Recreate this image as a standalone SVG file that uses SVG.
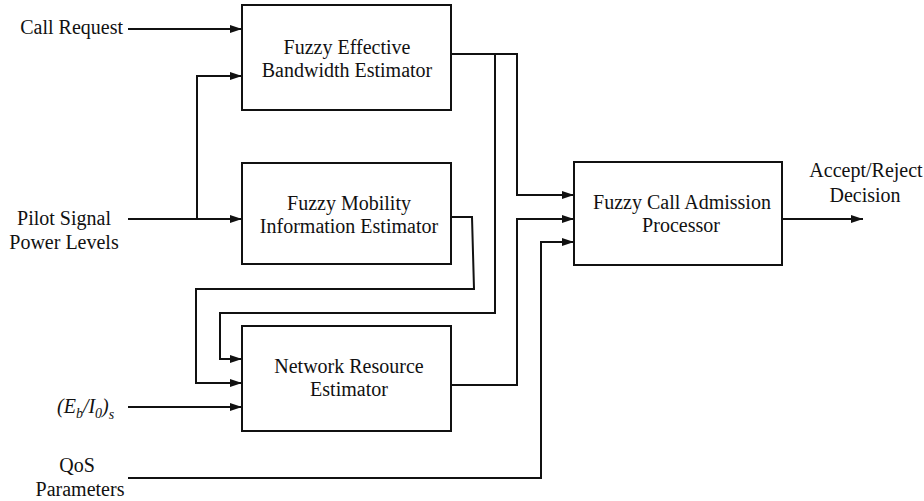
<svg xmlns="http://www.w3.org/2000/svg" width="924" height="501" viewBox="0 0 924 501">
<defs>
<marker id="arr" markerWidth="12" markerHeight="8" refX="12" refY="4" orient="auto" markerUnits="userSpaceOnUse">
<path d="M0,0 L12,4 L0,8 Z" fill="#111"/>
</marker>
<style>
text{font-family:"Liberation Serif","Times New Roman",serif;font-size:20px;fill:#111}
.box{fill:#fff;stroke:#111;stroke-width:2}
.c{text-anchor:middle}
.w{fill:none;stroke:#111;stroke-width:2}
.a{marker-end:url(#arr)}
</style>
</defs>
<rect width="924" height="501" fill="#fff"/>
<g id="connectors">
<path class="w a" d="M128,29 H242"/>
<path class="w a" d="M128,219 H242"/>
<path class="w a" d="M197,219 V76 H242"/>
<path class="w a" d="M451,54 H517 V195 H574"/>
<path class="w a" d="M495,54 V313 H220 V359 H242"/>
<path class="w a" d="M451,217 H472 L474,289 H196 V383 H242"/>
<path class="w a" d="M128,407 H242"/>
<path class="w a" d="M451,385 H517 V219 H574"/>
<path class="w a" d="M128,478 H541 V242 H574"/>
<path class="w a" d="M782,219 H863"/>
</g>
<g id="febe">
<rect class="box" x="242" y="5" width="209" height="105"/>
<text class="c" x="347" y="54">Fuzzy Effective</text>
<text class="c" x="347" y="77">Bandwidth Estimator</text>
</g>
<g id="fmie">
<rect class="box" x="242" y="163" width="209" height="101"/>
<text class="c" x="349" y="210">Fuzzy Mobility</text>
<text class="c" x="349" y="233">Information Estimator</text>
</g>
<g id="nre">
<rect class="box" x="242" y="326" width="209" height="105"/>
<text class="c" x="349" y="373">Network Resource</text>
<text class="c" x="349" y="396">Estimator</text>
</g>
<g id="fcap">
<rect class="box" x="574" y="162" width="208" height="103"/>
<text class="c" x="682" y="209">Fuzzy Call Admission</text>
<text class="c" x="681" y="232">Processor</text>
</g>
<g id="labels">
<text x="123" y="34" text-anchor="end">Call Request</text>
<text class="c" x="64" y="225">Pilot Signal</text>
<text class="c" x="64" y="249">Power Levels</text>
<text x="57" y="413" font-style="italic">(E<tspan dy="5" font-size="14">b</tspan><tspan dy="-5">/I</tspan><tspan dy="5" font-size="14">0</tspan><tspan dy="-5">)</tspan><tspan dy="6" font-size="14">s</tspan></text>
<text class="c" x="77" y="472">QoS</text>
<text class="c" x="80" y="496">Parameters</text>
<text class="c" x="866" y="177">Accept/Reject</text>
<text class="c" x="865" y="202">Decision</text>
</g>
</svg>
